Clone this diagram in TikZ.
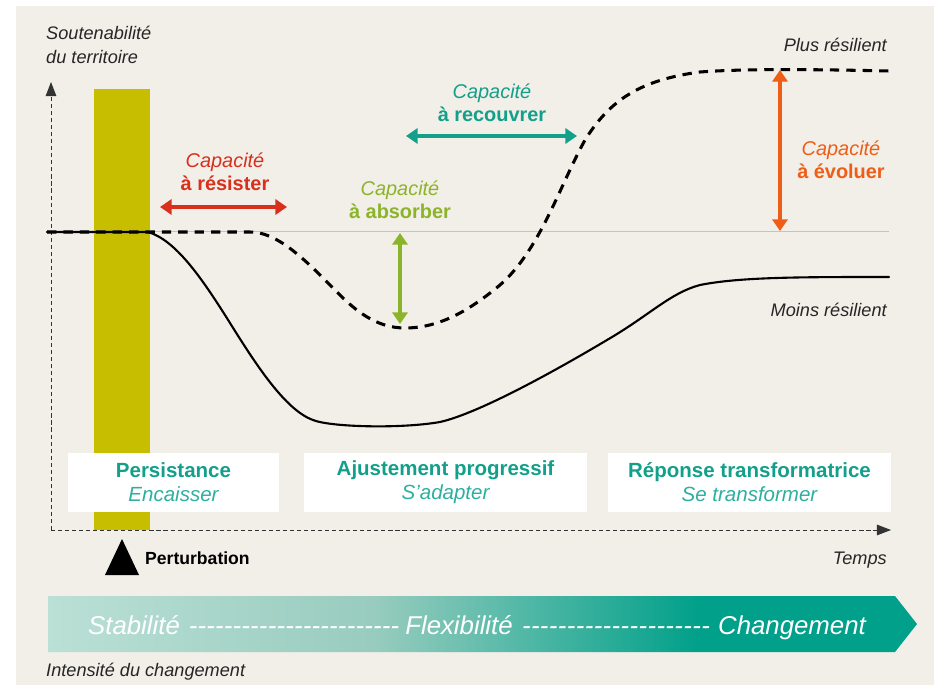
\documentclass[tikz,border=0pt]{standalone}
\usepackage{fontspec}
\setmainfont{Liberation Sans}
\usetikzlibrary{arrows.meta,positioning}
\definecolor{fond}{HTML}{F2EEE8}
\definecolor{olive}{HTML}{C8BE00}
\definecolor{axegris}{HTML}{333333}
\definecolor{ligne}{HTML}{C6C3BD}
\definecolor{rouge}{HTML}{D8301D}
\definecolor{vert}{HTML}{8CB42A}
\definecolor{sarcelle}{HTML}{12A08A}
\definecolor{sarcelleclair}{HTML}{2DB0A0}
\definecolor{orange}{HTML}{EE5E16}
\definecolor{bandeA}{HTML}{BBE0D6}
\definecolor{bandeB}{HTML}{98CCBE}
\definecolor{bandeC}{HTML}{00A08A}
\pgfdeclarehorizontalshading{bande}{100bp}{color(0bp)=(bandeA); color(25bp)=(bandeA);
	color(43.75bp)=(bandeB); color(62.5bp)=(bandeC); color(100bp)=(bandeC)}
\newcommand\tirets[1]{\hbox to #1{\xleaders\hbox{-}\hfill}}

\begin{document}
\begin{tikzpicture}[x=0.03cm, y=-0.03cm,
	axe/.style={draw=axegris, line width=0.8pt, dash pattern=on 3.5pt off 2.5pt, -{Triangle[length=12pt,width=9pt]}},
	capa/.style={{Triangle[length=10pt,width=13pt]}-{Triangle[length=10pt,width=13pt]}, line width=2.9pt},
	etiq/.style={inner sep=0pt, font=\fontsize{15.5}{20.5}\selectfont\itshape, text=black!85},
	capatxt/.style={inner sep=0pt, align=center, font=\fontsize{17}{20}\selectfont},
	phase/.style={fill=white, inner sep=0pt, minimum height=1.77cm, align=center, font=\fontsize{17.5}{20.5}\selectfont},
	bandetxt/.style={inner sep=0pt, anchor=base, text=white, font=\fontsize{22}{24}\selectfont\itshape}]

\useasboundingbox (0,0) rectangle (934,685);
\fill[white] (0,0) rectangle (934,685);
\fill[fond] (16,6) rectangle (934,685);

% perturbation
\fill[olive] (94,89) rectangle (150,530);
\draw[ligne, line width=0.8pt] (47,231) -- (889,231);

% axes
\coordinate (origine) at (51,530);
\coordinate (ymax) at (51,82);
\coordinate (xmax) at (891,530);
\draw[axe] (origine) -- (ymax);
\draw[axe] (origine) -- (xmax);

% courbes
\draw[line width=1.8pt, line cap=round] (47,232) -- (148,232)
	.. controls (175,240) and (200,275) .. (230,323)
	.. controls (255,363) and (285,410) .. (313,420)
	.. controls (330,427) and (400,429) .. (440,422)
	.. controls (480,413) and (560,368) .. (607,340)
	.. controls (650,315) and (670,293) .. (700,285)
	.. controls (740,277) and (800,277) .. (889,277);
\draw[line width=2.6pt, dash pattern=on 8pt off 6pt] (47,232) -- (250,232)
	.. controls (280,232) and (310,265) .. (340,295)
	.. controls (360,315) and (380,328) .. (405,328)
	.. controls (440,328) and (470,310) .. (500,285)
	.. controls (540,250) and (560,185) .. (585,140)
	.. controls (610,100) and (640,80) .. (700,72)
	.. controls (740,69) and (800,69) .. (889,71);

\node[etiq, align=left, anchor=north west] (titre) at (46,26) {Soutenabilité\\du territoire};
\node[etiq, anchor=east] (plus) at (887,45) {Plus résilient};
\node[etiq, anchor=east] (moins) at (887,310) {Moins résilient};

% capacites
\node[capatxt, text=rouge] (resister) at (225,172) {\itshape Capacité\\\bfseries à résister};
\coordinate (r1) at (160,207);
\coordinate (r2) at (287,207);
\draw[capa, rouge] (r1) -- (r2);

\node[capatxt, text=vert] (absorber) at (400,200) {\itshape Capacité\\\bfseries à absorber};
\coordinate (a1) at (400,233);
\coordinate (a2) at (400,324);
\draw[capa, vert] (a1) -- (a2);

\node[capatxt, text=sarcelle] (recouvrer) at (492,103) {\itshape Capacité\\\bfseries à recouvrer};
\coordinate (c1) at (406,136);
\coordinate (c2) at (577,136);
\draw[capa, sarcelle] (c1) -- (c2);

\node[capatxt, text=orange] (evoluer) at (841,160) {\itshape Capacité\\\bfseries à évoluer};
\coordinate (e1) at (780,70);
\coordinate (e2) at (780,231);
\draw[capa, orange] (e1) -- (e2);

% phases
\node[phase, minimum width=6.33cm] (persistance) at (173.5,482.5) {\textcolor{sarcelle}{\bfseries Persistance}\\\textcolor{sarcelleclair}{\itshape Encaisser}};
\node[phase, minimum width=8.49cm] (ajustement) at (445.5,482.5) {\textcolor{sarcelle}{\bfseries Ajustement progressif}\\\textcolor{sarcelleclair}{\itshape S’adapter}};
\node[phase, minimum width=8.49cm] (reponse) at (749.5,482.5) {\textcolor{sarcelle}{\bfseries Réponse transformatrice}\\\textcolor{sarcelleclair}{\itshape Se transformer}};

\fill (122,539) -- (139,575) -- (105,575) -- cycle;
\node[inner sep=0pt, anchor=west, font=\fontsize{15}{18}\selectfont\bfseries] (perturbation) at (145,558) {Perturbation};
\node[etiq, anchor=east] (temps) at (887,560) {Temps};

% bande
\shade[shading=bande] (48,596) -- (895,596) -- (917,624) -- (895,652) -- (48,652) -- cycle;
\node[bandetxt] (stabilite) at (134,634) {Stabilité};
\node[bandetxt] (tirets1) at (294,634) {\tirets{180pt}};
\node[bandetxt] (flexibilite) at (459,634) {Flexibilité};
\node[bandetxt] (tirets2) at (616,634) {\tirets{161pt}};
\node[bandetxt] (changement) at (792,634) {Changement};

\node[etiq, anchor=west] (intensite) at (46,672) {Intensité du changement};
\end{tikzpicture}
\end{document}
